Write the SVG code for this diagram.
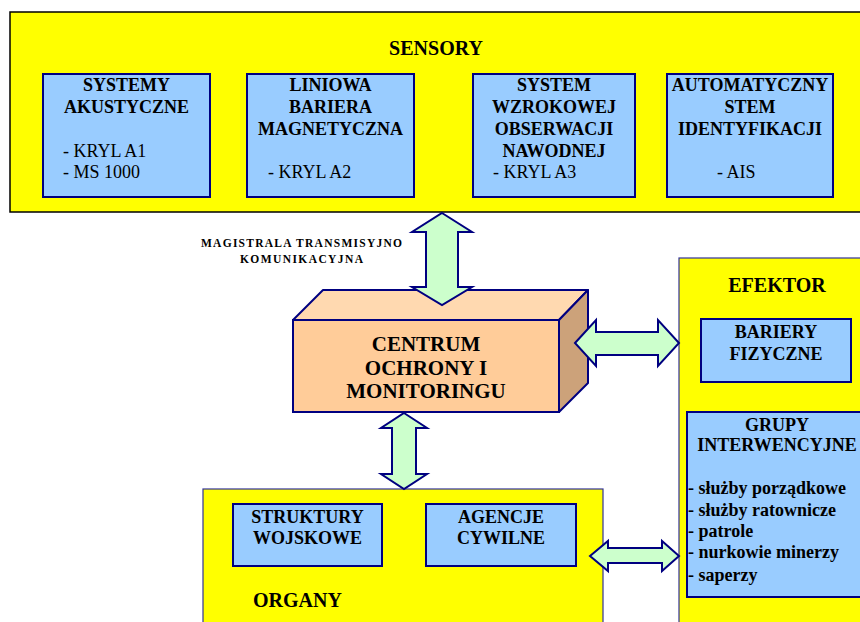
<svg xmlns="http://www.w3.org/2000/svg" width="860" height="622" viewBox="0 0 860 622">
<style>
.t{font-size:20px;font-weight:bold;text-anchor:middle}
.h{font-size:18px;font-weight:bold;text-anchor:middle}
.n{font-size:18px}
.b{font-size:18px;font-weight:bold}
.c{font-size:21px;font-weight:bold;text-anchor:middle}
.group{fill:#FFFF00}
.box{fill:#99CCFF;stroke:#000080;stroke-width:2}
.arrow{fill:#CCFFCC;stroke:#000080;stroke-width:2;stroke-linejoin:miter}
</style>
<rect width="860" height="622" fill="#fff"/>
<g font-family="Liberation Serif, serif" fill="#000">

<g id="sensory">
<rect x="10" y="12" width="852" height="200" class="group" stroke="#000" stroke-width="1.5"/>
<text class="t" x="436" y="55">SENSORY</text>
</g>
<g id="akustyczne">
<rect x="43" y="74" width="167" height="123" class="box"/>
<text class="h" x="126.5" y="91">SYSTEMY</text>
<text class="h" x="126.5" y="113">AKUSTYCZNE</text>
<text class="n" x="63" y="157">- KRYL A1</text>
<text class="n" x="63" y="178">- MS 1000</text>
</g>
<g id="bariera">
<rect x="247" y="74" width="167" height="123" class="box"/>
<text class="h" x="330.5" y="91">LINIOWA</text>
<text class="h" x="330.5" y="113">BARIERA</text>
<text class="h" x="330.5" y="135">MAGNETYCZNA</text>
<text class="n" x="268" y="178">- KRYL A2</text>
</g>
<g id="wzrokowa">
<rect x="473" y="74" width="162" height="123" class="box"/>
<text class="h" x="554" y="91">SYSTEM</text>
<text class="h" x="554" y="113">WZROKOWEJ</text>
<text class="h" x="554" y="135">OBSERWACJI</text>
<text class="h" x="554" y="157">NAWODNEJ</text>
<text class="n" x="493" y="178">- KRYL A3</text>
</g>
<g id="ais">
<rect x="667" y="74" width="166" height="123" class="box"/>
<text class="h" x="750" y="91">AUTOMATYCZNY</text>
<text class="h" x="750" y="113">STEM</text>
<text class="h" x="750" y="135">IDENTYFIKACJI</text>
<text class="n" x="717" y="178">- AIS</text>
</g>

<g id="magistrala">
<text x="201" y="247" font-size="11.5" font-weight="bold" textLength="201" lengthAdjust="spacing">MAGISTRALA TRANSMISYJNO</text>
<text x="240" y="263" font-size="11.5" font-weight="bold" textLength="123" lengthAdjust="spacing">KOMUNIKACYJNA</text>
</g>

<g id="centrum">
<polygon points="293,320 323,290 588,290 559,320" fill="#FFD9B0" stroke="#000080" stroke-width="2" stroke-linejoin="round"/>
<polygon points="559,320 588,290 588,383 559,412" fill="#CCA27A" stroke="#000080" stroke-width="2" stroke-linejoin="round"/>
<rect x="293" y="320" width="266" height="92" fill="#FFCC99" stroke="#000080" stroke-width="2"/>
<text class="c" x="426" y="351">CENTRUM</text>
<text class="c" x="426" y="375">OCHRONY I</text>
<text class="c" x="426" y="398">MONITORINGU</text>
</g>

<g id="efektor">
<rect x="679" y="258" width="190" height="380" class="group" stroke="#333399" stroke-width="1.2"/>
<text class="t" x="777" y="292">EFEKTOR</text>
</g>
<g id="bariery">
<rect x="701" y="319" width="150" height="63" class="box"/>
<text class="h" x="776" y="338">BARIERY</text>
<text class="h" x="776" y="360">FIZYCZNE</text>
</g>
<g id="grupy">
<rect x="687" y="412" width="190" height="185" class="box"/>
<text class="h" x="777" y="431">GRUPY</text>
<text class="h" x="777" y="451">INTERWENCYJNE</text>
<text class="b" x="688" y="494">- służby porządkowe</text>
<text class="b" x="688" y="516">- służby ratownicze</text>
<text class="b" x="688" y="537">- patrole</text>
<text class="b" x="688" y="558">- nurkowie minerzy</text>
<text class="b" x="688" y="581">- saperzy</text>
</g>

<g id="organy">
<rect x="203" y="489" width="400" height="150" class="group" stroke="#333399" stroke-width="1.2"/>
<text x="253" y="607" font-size="20" font-weight="bold">ORGANY</text>
</g>
<g id="wojskowe">
<rect x="233" y="504" width="149" height="62" class="box"/>
<text class="h" x="307.5" y="523">STRUKTURY</text>
<text class="h" x="307.5" y="544">WOJSKOWE</text>
</g>
<g id="cywilne">
<rect x="426" y="504" width="150" height="62" class="box"/>
<text class="h" x="501" y="523">AGENCJE</text>
<text class="h" x="501" y="544">CYWILNE</text>
</g>

<g id="connectors">
<polygon class="arrow" points="442,213 472,232 458,232 458,287 472,287 442,305 412,287 426,287 426,232 412,232"/>
<polygon class="arrow" points="575,343 596,320 596,332 658,332 658,320 679,343 658,366 658,355 596,355 596,366"/>
<polygon class="arrow" points="404,413 427,428 416,428 416,474 427,474 404,489 381,474 392,474 392,428 381,428"/>
<polygon class="arrow" points="590,556 608,541 608,548 662,548 662,541 679,556 662,571 662,563 608,563 608,571"/>
</g>
</g>
</svg>
